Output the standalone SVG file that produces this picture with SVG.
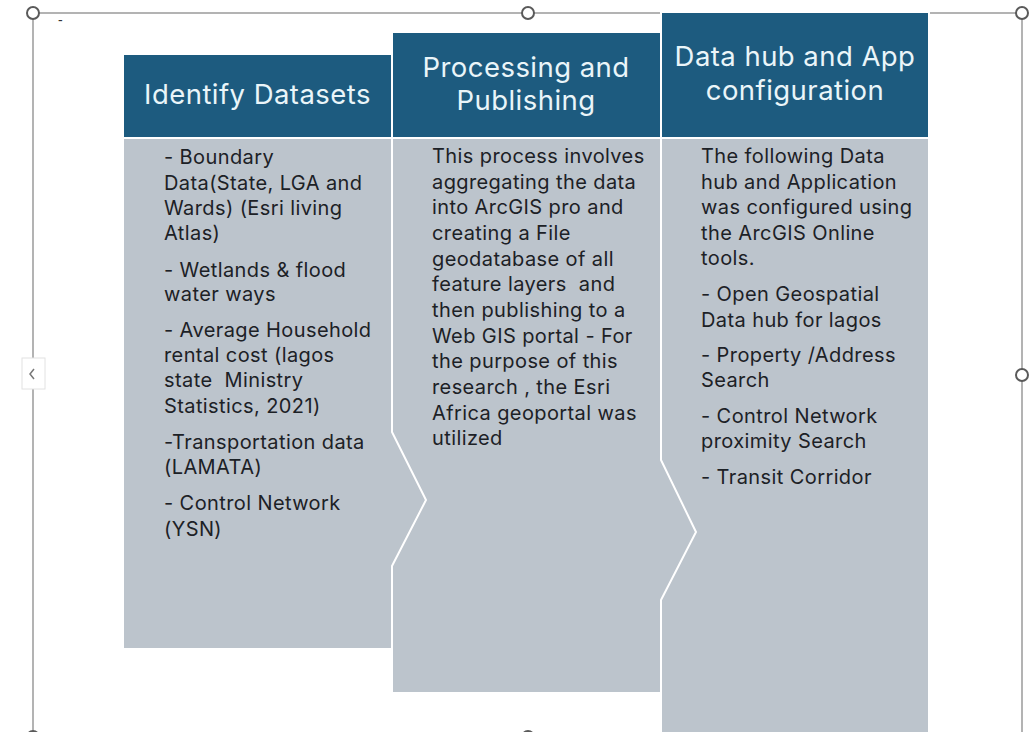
<svg xmlns="http://www.w3.org/2000/svg" width="1030" height="732" viewBox="0 0 1030 732">
<style>
.frame{fill:none;stroke:#9a9a9a;stroke-width:1.5}
.handle{fill:#fff;stroke:#5a5a5a;stroke-width:2}
.hdr{fill:#1d5b7f;stroke:#fff;stroke-width:2}
.body{fill:#bcc4cc;stroke:#fff;stroke-width:2}
.ht{font-family:Inter,"Open Sans","Liberation Sans",sans-serif;font-size:27.5px;letter-spacing:0.45px;fill:#eaf5f9;text-anchor:middle}
.bt{font-family:Inter,"Open Sans","Liberation Sans",sans-serif;font-size:20px;letter-spacing:0.4px;fill:#1c2126}
.pre{white-space:pre}
</style>
<rect width="1030" height="732" fill="#fff"/>
<g id="frame">
<line class="frame" x1="33" y1="13" x2="1022" y2="13"/>
<line class="frame" x1="33" y1="13" x2="33" y2="732"/>
<line class="frame" x1="1022" y1="13" x2="1022" y2="732"/>
<text x="58" y="25" style="font-family:'Liberation Sans',sans-serif;font-size:14px;fill:#333">-</text>
</g>
<g id="col3">
<polygon class="body" points="661,138 929,138 929,745 661,745"/>
<rect class="hdr" x="661" y="12" width="268" height="126"/>
<text class="ht" x="795" y="66">Data hub and App</text>
<text class="ht" x="795" y="100">configuration</text>
<g class="bt">
<text x="701" y="163">The following Data</text>
<text x="701" y="189">hub and Application</text>
<text x="701" y="214">was configured using</text>
<text x="701" y="240">the ArcGIS Online</text>
<text x="701" y="265">tools.</text>
<text x="701" y="301">- Open Geospatial</text>
<text x="701" y="327">Data hub for lagos</text>
<text x="701" y="362">- Property /Address</text>
<text x="701" y="387">Search</text>
<text x="701" y="423">- Control Network</text>
<text x="701" y="448">proximity Search</text>
<text x="701" y="484">- Transit Corridor</text>
</g>
</g>
<g id="col2">
<polygon class="body" points="392,138 661,138 661,460 696,532 661,600 661,693 392,693"/>
<rect class="hdr" x="392" y="32" width="269" height="106"/>
<text class="ht" x="526" y="77">Processing and</text>
<text class="ht" x="526" y="110">Publishing</text>
<g class="bt">
<text x="432" y="163">This process involves</text>
<text x="432" y="189">aggregating the data</text>
<text x="432" y="214">into ArcGIS pro and</text>
<text x="432" y="240">creating a File</text>
<text x="432" y="266">geodatabase of all</text>
<text class="pre" x="432" y="291">feature layers  and</text>
<text x="432" y="317">then publishing to a</text>
<text x="432" y="343">Web GIS portal - For</text>
<text x="432" y="368">the purpose of this</text>
<text x="432" y="394">research , the Esri</text>
<text x="432" y="420">Africa geoportal was</text>
<text x="432" y="445">utilized</text>
</g>
</g>
<g id="col1">
<polygon class="body" points="123,138 392,138 392,432 426,500 392,566 392,649 123,649"/>
<rect class="hdr" x="123" y="54" width="269" height="84"/>
<text class="ht" x="257.5" y="104">Identify Datasets</text>
<g class="bt">
<text x="164" y="164">- Boundary</text>
<text x="164" y="190">Data(State, LGA and</text>
<text x="164" y="215">Wards) (Esri living</text>
<text x="164" y="240">Atlas)</text>
<text x="164" y="277">- Wetlands &amp; flood</text>
<text x="164" y="301">water ways</text>
<text x="164" y="337">- Average Household</text>
<text x="164" y="362">rental cost (lagos</text>
<text class="pre" x="164" y="387">state  Ministry</text>
<text x="164" y="413">Statistics, 2021)</text>
<text x="164" y="449">-Transportation data</text>
<text x="164" y="474">(LAMATA)</text>
<text x="164" y="510">- Control Network</text>
<text x="164" y="536">(YSN)</text>
</g>
</g>
<g id="handles">
<circle class="handle" cx="33" cy="13" r="6"/>
<circle class="handle" cx="528" cy="13" r="6"/>
<circle class="handle" cx="1022" cy="13" r="6"/>
<circle class="handle" cx="1022" cy="375" r="6"/>
<circle class="handle" cx="33" cy="737" r="6"/>
<circle class="handle" cx="528" cy="737" r="6"/>
<rect x="22" y="358" width="23" height="31" fill="#fff" stroke="#e2e2e2" stroke-width="1"/>
<polyline points="34,369 30,374 34,379" fill="none" stroke="#777" stroke-width="1.5"/>
</g>
</svg>
